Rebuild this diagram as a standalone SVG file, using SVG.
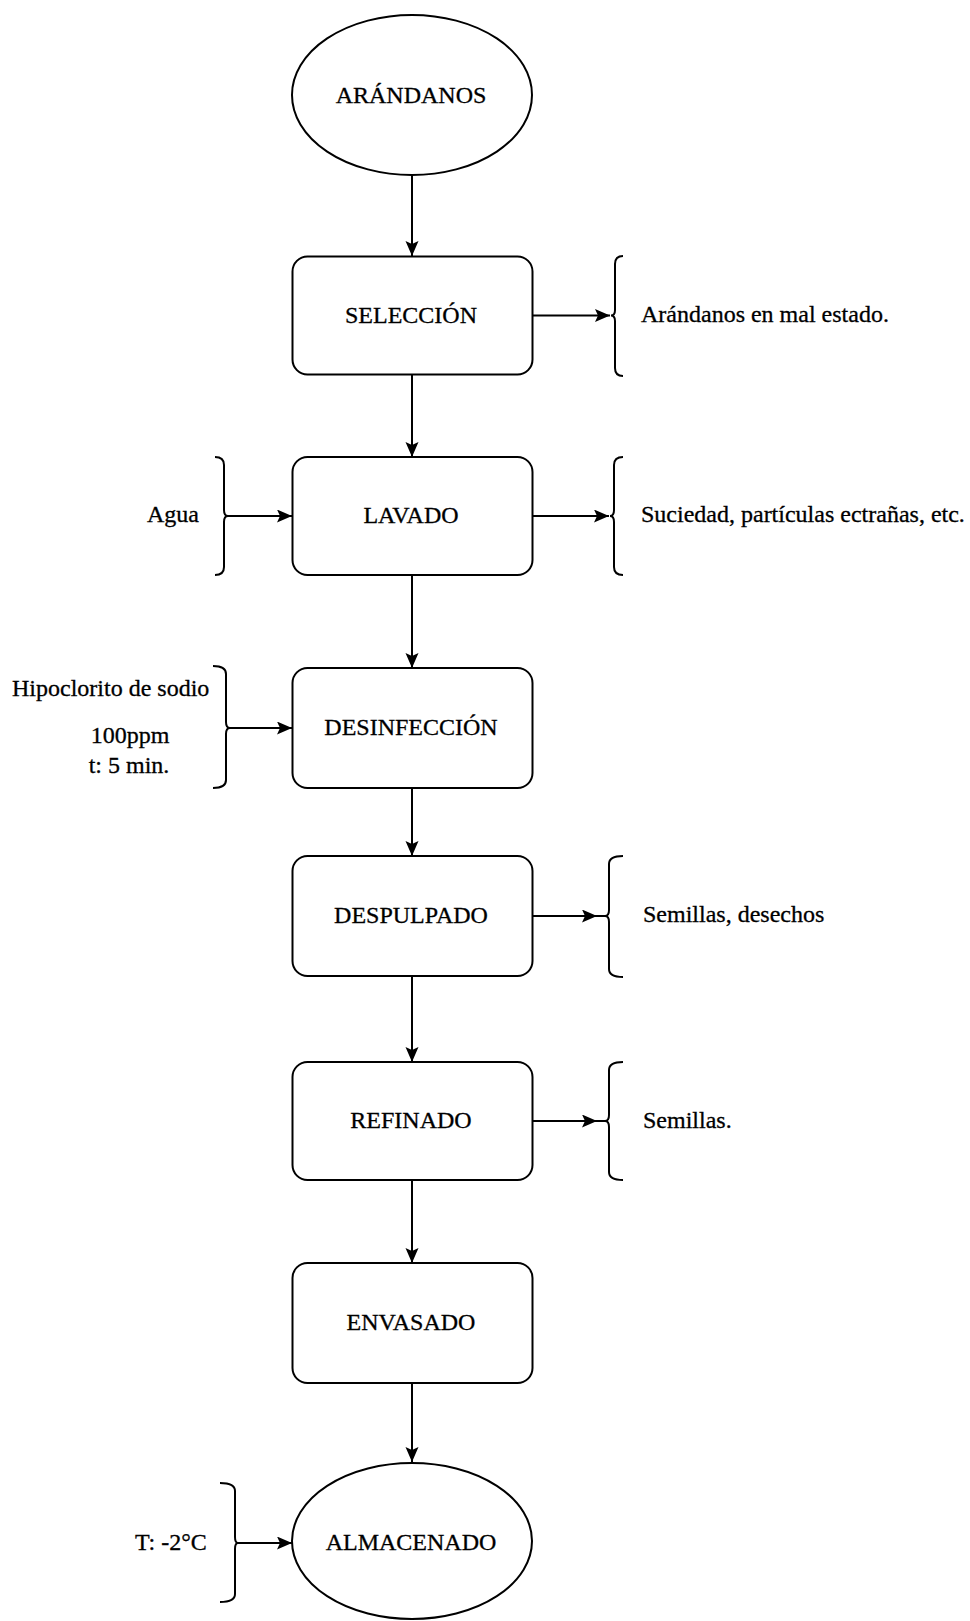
<svg xmlns="http://www.w3.org/2000/svg" width="970" height="1621" viewBox="0 0 970 1621">
<style>
.box{fill:#fff;stroke:#000;stroke-width:2}
.t{font-family:"Liberation Serif","Times New Roman",serif;font-size:24px;fill:#000;stroke:#000;stroke-width:0.3}
.c{text-anchor:middle}
.ln{stroke:#000;stroke-width:2;fill:none}
.br{stroke:#000;stroke-width:2;fill:none}
</style>
<defs>
<marker id="ah" markerUnits="userSpaceOnUse" markerWidth="18" markerHeight="16" refX="15" refY="6.5" orient="auto">
<path d="M0,0 L15,6.5 L0,13 L3,6.5 z" fill="#000"/>
</marker>
</defs>
<rect width="970" height="1621" fill="#fff"/>

<g id="connectors">
<line class="ln" x1="412" y1="176" x2="412" y2="256" marker-end="url(#ah)"/>
<line class="ln" x1="412" y1="375" x2="412" y2="457" marker-end="url(#ah)"/>
<line class="ln" x1="412" y1="575" x2="412" y2="668" marker-end="url(#ah)"/>
<line class="ln" x1="412" y1="788" x2="412" y2="856" marker-end="url(#ah)"/>
<line class="ln" x1="412" y1="976" x2="412" y2="1062" marker-end="url(#ah)"/>
<line class="ln" x1="412" y1="1180" x2="412" y2="1263" marker-end="url(#ah)"/>
<line class="ln" x1="412" y1="1383" x2="412" y2="1462" marker-end="url(#ah)"/>
<line class="ln" x1="532" y1="315.5" x2="610" y2="315.5" marker-end="url(#ah)"/>
<line class="ln" x1="532" y1="516" x2="609" y2="516" marker-end="url(#ah)"/>
<line class="ln" x1="532" y1="916" x2="597" y2="916" marker-end="url(#ah)"/>
<line class="ln" x1="596" y1="916" x2="605" y2="916"/>
<line class="ln" x1="532" y1="1121" x2="597" y2="1121" marker-end="url(#ah)"/>
<line class="ln" x1="596" y1="1121" x2="605" y2="1121"/>
<line class="ln" x1="228" y1="516" x2="292" y2="516" marker-end="url(#ah)"/>
<line class="ln" x1="230" y1="728" x2="292" y2="728" marker-end="url(#ah)"/>
<line class="ln" x1="238" y1="1543" x2="292" y2="1543" marker-end="url(#ah)"/>
</g>

<g id="n-arandanos">
<ellipse class="box" cx="412" cy="95" rx="120" ry="80"/>
<text class="t c" x="411" y="103">ARÁNDANOS</text>
</g>

<g id="n-seleccion">
<rect class="box" x="292.5" y="256.5" width="240" height="118" rx="15"/>
<text class="t c" x="411" y="323">SELECCIÓN</text>
</g>
<g id="out-seleccion">
<path class="br" d="M623,256 Q615,256 615,264 L615,310 Q615,315.5 611,315.5 Q615,315.5 615,321 L615,368 Q615,376 623,376"/>
<text class="t" x="641" y="322">Arándanos en mal estado.</text>
</g>

<g id="n-lavado">
<rect class="box" x="292.5" y="457" width="240" height="118" rx="15"/>
<text class="t c" x="411" y="523">LAVADO</text>
</g>
<g id="in-lavado">
<path class="br" d="M215,457 Q224,457 224,465 L224,510 Q224,516 228,516 Q224,516 224,522 L224,567 Q224,575 215,575"/>
<text class="t" x="147" y="522">Agua</text>
</g>
<g id="out-lavado">
<path class="br" d="M623,457 Q614,457 614,465 L614,510 Q614,516 610,516 Q614,516 614,522 L614,567 Q614,575 623,575"/>
<text class="t" x="641" y="522">Suciedad, partículas ectrañas, etc.</text>
</g>

<g id="n-desinfeccion">
<rect class="box" x="292.5" y="668" width="240" height="120" rx="15"/>
<text class="t c" x="411" y="735">DESINFECCIÓN</text>
</g>
<g id="in-desinfeccion">
<path class="br" d="M213,666 Q226,666 226,674 L226,722 Q226,728 230,728 Q226,728 226,734 L226,780 Q226,788 213,788"/>
<text class="t" x="12" y="696">Hipoclorito de sodio</text>
<text class="t c" x="130" y="743">100ppm</text>
<text class="t c" x="129" y="773">t: 5 min.</text>
</g>

<g id="n-despulpado">
<rect class="box" x="292.5" y="856" width="240" height="120" rx="15"/>
<text class="t c" x="411" y="923">DESPULPADO</text>
</g>
<g id="out-despulpado">
<path class="br" d="M623,856 Q609,856 609,864 L609,910 Q609,916 605,916 Q609,916 609,922 L609,969 Q609,977 623,977"/>
<text class="t" x="643" y="922">Semillas, desechos</text>
</g>

<g id="n-refinado">
<rect class="box" x="292.5" y="1062" width="240" height="118" rx="15"/>
<text class="t c" x="411" y="1128">REFINADO</text>
</g>
<g id="out-refinado">
<path class="br" d="M623,1062 Q609,1062 609,1070 L609,1115 Q609,1121 605,1121 Q609,1121 609,1127 L609,1172 Q609,1180 623,1180"/>
<text class="t" x="643" y="1128">Semillas.</text>
</g>

<g id="n-envasado">
<rect class="box" x="292.5" y="1263" width="240" height="120" rx="15"/>
<text class="t c" x="411" y="1330">ENVASADO</text>
</g>

<g id="n-almacenado">
<ellipse class="box" cx="412" cy="1541" rx="120" ry="78"/>
<text class="t c" x="411" y="1550">ALMACENADO</text>
</g>
<g id="in-almacenado">
<path class="br" d="M220,1483 Q235,1483 235,1491 L235,1537 Q235,1543 238,1543 Q235,1543 235,1549 L235,1594 Q235,1602 220,1602"/>
<text class="t" x="135" y="1550">T: -2°C</text>
</g>
</svg>
